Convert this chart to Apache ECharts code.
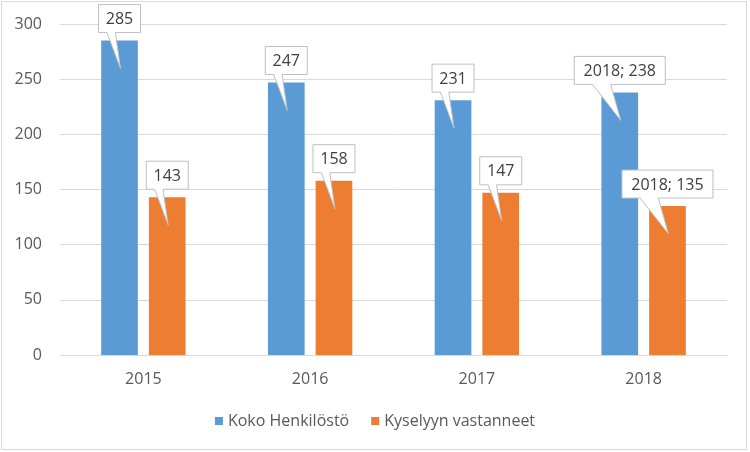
<!DOCTYPE html>
<html>
<head>
<meta charset="utf-8">
<script src="https://cdn.jsdelivr.net/npm/echarts@6/dist/echarts.min.js"></script>
<style>html,body{margin:0;padding:0;background:#fff}#c{width:750px;height:452px}</style>
</head>
<body>
<div id="c"></div>
<script>
const categories = ['2015', '2016', '2017', '2018'];
const kokoHenkilosto = [285, 247, 231, 238];
const kyselyynVastanneet = [143, 158, 147, 135];
const yTicks = { min: 0, max: 300, interval: 50 };
// labels: last category shows "category; value"
const kokoLabels = ['285', '247', '231', '2018; 238'];
const kyselyLabels = ['143', '158', '147', '2018; 135'];

const FONT = '"Open Sans", "Noto Sans", sans-serif';
const BAR_W = 0.22, BAR_GAP = 0.3;

function calloutSeries(values, labels, sign) {
  return {
    type: 'custom',
    z: 10,
    silent: true,
    data: values.map((v, i) => [i, v]),
    renderItem: function (params, api) {
      const i = api.value(0), v = api.value(1);
      const p = api.coord([i, v]);
      const band = api.size([1, 0])[0];
      const bw = band * BAR_W;
      const cx = p[0] + sign * bw * (1 + BAR_GAP) / 2;
      const top = p[1];
      const text = labels[i];
      const w = text.length > 4 ? 91 : 42;
      const h = 28;
      const left = cx - w / 2;
      const bottom = top - 8;
      const ttop = bottom - h;
      const b1 = left + w * 0.2, b2 = left + w * 0.4;
      const tipX = cx + 1, tipY = top + 28;
      const pts = [[left, ttop], [left + w, ttop], [left + w, bottom], [b2, bottom], [tipX, tipY], [b1, bottom], [left, bottom]];
      return {
        type: 'group',
        children: [
          { type: 'polygon', shape: { points: pts }, style: { fill: '#ffffff', stroke: '#bfbfbf', lineWidth: 1 } },
          { type: 'text', style: { text: text, x: cx, y: ttop + h / 2 + 1, align: 'center', verticalAlign: 'middle', fill: '#404040', font: '16px ' + FONT } }
        ]
      };
    }
  };
}

const chart = echarts.init(document.getElementById('c'), null, { renderer: 'canvas' });
chart.setOption({
  animation: false,
  backgroundColor: '#ffffff',
  graphic: [{ type: 'rect', shape: { x: 1.5, y: 1.5, width: 745, height: 448 }, style: { fill: 'none', stroke: '#d9d9d9', lineWidth: 1 }, silent: true }],
  grid: { left: 60, right: 23, top: 24, bottom: 97 },
  legend: {
    top: 408,
    left: 'center',
    itemWidth: 8, itemHeight: 8, itemGap: 22,
    icon: 'rect',
    textStyle: { color: '#595959', fontSize: 16, fontFamily: FONT },
    data: ['Koko Henkilöstö', 'Kyselyyn vastanneet']
  },
  xAxis: {
    type: 'category',
    data: categories,
    axisLine: { lineStyle: { color: '#d9d9d9' } },
    axisTick: { show: false },
    axisLabel: { color: '#595959', fontSize: 16, fontFamily: FONT, margin: 16 }
  },
  yAxis: {
    type: 'value',
    min: yTicks.min, max: yTicks.max, interval: yTicks.interval,
    axisLine: { show: false },
    axisTick: { show: false },
    splitLine: { lineStyle: { color: '#d9d9d9' } },
    axisLabel: { color: '#595959', fontSize: 16, fontFamily: FONT, margin: 18 }
  },
  series: [
    { name: 'Koko Henkilöstö', type: 'bar', data: kokoHenkilosto, barWidth: (BAR_W * 100) + '%', barGap: (BAR_GAP * 100) + '%', itemStyle: { color: '#5b9bd5' } },
    { name: 'Kyselyyn vastanneet', type: 'bar', data: kyselyynVastanneet, barWidth: (BAR_W * 100) + '%', barGap: (BAR_GAP * 100) + '%', itemStyle: { color: '#ed7d31' } },
    calloutSeries(kokoHenkilosto, kokoLabels, -1),
    calloutSeries(kyselyynVastanneet, kyselyLabels, 1)
  ]
});
</script>
</body>
</html>
